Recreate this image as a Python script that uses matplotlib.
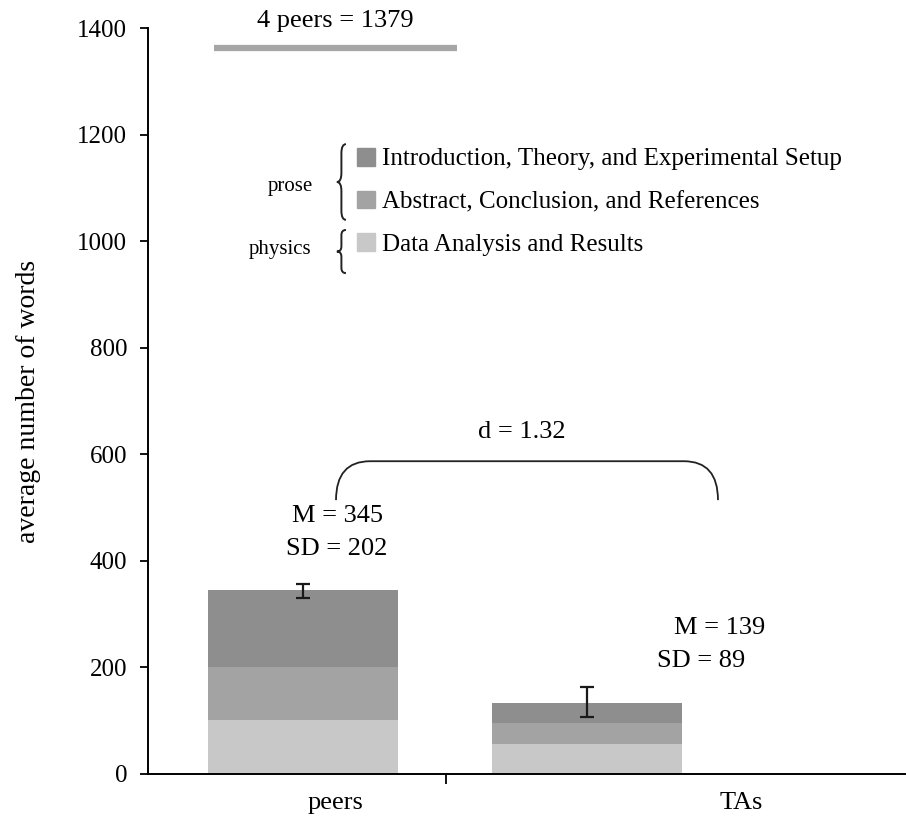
import matplotlib
matplotlib.use("Agg")
import matplotlib.pyplot as plt
from matplotlib.path import Path
from matplotlib.patches import PathPatch, Patch

plt.rcParams["font.family"] = ["Liberation Serif", "DejaVu Serif"]

groups = ["peers", "TAs"]
data_words = [101, 56]        # Data Analysis and Results
abstract_words = [99, 39]     # Abstract, Conclusion, and References
intro_words = [145, 39]       # Introduction, Theory, and Experimental Setup
err_center = [344, 135]
err_half = [13.5, 27.5]
means = [345, 139]
sds = [202, 89]
four_peers = 1362
four_peers_label = "4 peers = 1379"
effect_label = "d = 1.32"

c_intro = "#8e8e8e"
c_abs = "#a3a3a3"
c_data = "#c8c8c8"

fs = 19

fig = plt.figure(figsize=(9.06, 8.31), dpi=100)
ax = fig.add_axes([148 / 906, 1 - 774 / 831, 1 - 148 / 906, (774 - 28) / 831])

xpos = [0, 1]
width = 0.67
ax.bar(xpos, data_words, width, color=c_data)
ax.bar(xpos, abstract_words, width, bottom=data_words, color=c_abs)
bot2 = [a + b for a, b in zip(data_words, abstract_words)]
ax.bar(xpos, intro_words, width, bottom=bot2, color=c_intro)
ax.errorbar(xpos, err_center, yerr=err_half, fmt="none", ecolor="#1a1a1a",
            elinewidth=1.6, capsize=4.8, capthick=1.6)

ax.set_xlim(-0.546, 2.123)
ax.set_ylim(0, 1400)
ax.set_yticks(range(0, 1401, 200))
label_x = [0.113, 1.542]
ax.set_xticks(label_x)
ax.set_xticklabels(groups, fontsize=fs)
ax.set_xticks([0.504], minor=True)
ax.tick_params(axis="x", which="major", length=0, pad=13)
ax.tick_params(axis="x", which="minor", length=7, width=1.3, direction="out")
ax.tick_params(axis="y", length=6, width=1.3, direction="out", labelsize=18, pad=9)
for s in ["top", "right"]:
    ax.spines[s].set_visible(False)
ax.spines["left"].set_linewidth(1.4)
ax.spines["bottom"].set_linewidth(1.4)
ax.set_ylabel("average number of words", fontsize=20, labelpad=26)

# 4 peers line
ax.hlines(four_peers, label_x[0] - 0.428, label_x[0] + 0.428, color="#a6a6a6", lw=4.5)
ax.text(label_x[0], four_peers + 52, four_peers_label, ha="center", va="center",
        fontsize=fs, clip_on=False)

# M / SD labels
ax.text(0.12, 484, "M = %d" % means[0], ha="center", va="center", fontsize=fs)
ax.text(0.12, 422, "SD = %d" % sds[0], ha="center", va="center", fontsize=fs)
ax.text(1.465, 274, "M = %d" % means[1], ha="center", va="center", fontsize=fs)
ax.text(1.40, 212, "SD = %d" % sds[1], ha="center", va="center", fontsize=fs)

# effect size bracket
x0, x1, yb, yt = 0.116, 1.461, 514, 587
rx = 0.12
verts = [(x0, yb), (x0, yt), (x0 + rx, yt), (x1 - rx, yt), (x1, yt), (x1, yb)]
codes = [Path.MOVETO, Path.CURVE3, Path.CURVE3, Path.LINETO, Path.CURVE3, Path.CURVE3]
ax.add_patch(PathPatch(Path(verts, codes), fill=False, lw=1.3, color="#222222"))
ax.text((x0 + x1) / 2 - 0.02, 642, effect_label, ha="center", va="center", fontsize=fs)


def brace(xc, top, bottom, w=0.032):
    mid = (top + bottom) / 2
    r = (top - bottom) * 0.12
    xm = xc
    v = [(xm + w / 2, top), (xm, top), (xm, top - r),
         (xm, mid + r), (xm, mid), (xm - w / 2, mid),
         (xm, mid), (xm, mid - r),
         (xm, bottom + r), (xm, bottom), (xm + w / 2, bottom)]
    c = [Path.MOVETO, Path.CURVE3, Path.CURVE3,
         Path.LINETO, Path.CURVE3, Path.CURVE3,
         Path.CURVE3, Path.CURVE3,
         Path.LINETO, Path.CURVE3, Path.CURVE3]
    ax.add_patch(PathPatch(Path(v, c), fill=False, lw=1.4, color="#222222"))


brace(0.135, 1182, 1040)
brace(0.135, 1021, 940)
ax.text(-0.046, 1102, "prose", ha="center", va="center", fontsize=15)
ax.text(-0.081, 985, "physics", ha="center", va="center", fontsize=15)

handles = [Patch(color=c_intro), Patch(color=c_abs), Patch(color=c_data)]
labels = ["Introduction, Theory, and Experimental Setup",
          "Abstract, Conclusion, and References",
          "Data Analysis and Results"]
fig.legend(handles, labels, loc="upper left", bbox_to_anchor=(357 / 906, 1 - 148 / 831),
           frameon=False, fontsize=18, handlelength=0.7, handleheight=0.7,
           handletextpad=0.3, labelspacing=0.8, borderpad=0, borderaxespad=0)

fig.savefig("out.png", dpi=100)
